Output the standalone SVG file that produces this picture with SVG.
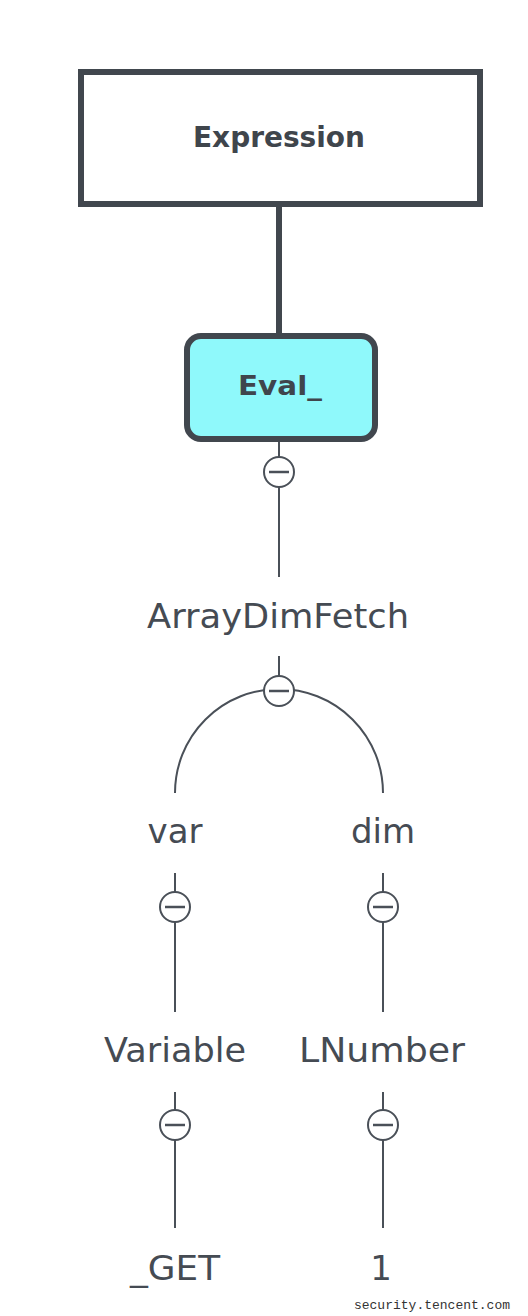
<svg xmlns="http://www.w3.org/2000/svg" width="528" height="1316" viewBox="0 0 528 1316">
<style>
.lbl{font-family:"DejaVu Sans","Liberation Sans",sans-serif;font-size:34px;fill:#454b53;text-anchor:middle}
.bold{font-family:"DejaVu Sans","Liberation Sans",sans-serif;font-weight:bold;fill:#3f454c;text-anchor:middle}
.ln{stroke:#4a5058;stroke-width:2;fill:none}
.knob{fill:#fff;stroke:#4a5058;stroke-width:2}
.dash{stroke:#4a5058;stroke-width:2.5}
</style>
<defs>
<g id="toggle"><circle class="knob" r="15"/><line class="dash" x1="-10" y1="0" x2="10" y2="0"/></g>
</defs>
<rect width="528" height="1316" fill="#fff"/>
<g id="connectors">
<line x1="279" y1="204" x2="279" y2="336" stroke="#41474e" stroke-width="6"/>
<line class="ln" x1="279" y1="441" x2="279" y2="577"/>
<line class="ln" x1="279" y1="656" x2="279" y2="690"/>
<path class="ln" d="M175,793 A104,104 0 0 1 383,793"/>
<line class="ln" x1="175" y1="873" x2="175" y2="1012"/>
<line class="ln" x1="383" y1="873" x2="383" y2="1012"/>
<line class="ln" x1="175" y1="1092" x2="175" y2="1228"/>
<line class="ln" x1="383" y1="1092" x2="383" y2="1228"/>
<use href="#toggle" x="279" y="472"/>
<use href="#toggle" x="279" y="691"/>
<use href="#toggle" x="175" y="907"/>
<use href="#toggle" x="383" y="907"/>
<use href="#toggle" x="175" y="1125"/>
<use href="#toggle" x="383" y="1125"/>
</g>
<g id="expression">
<rect x="81" y="72" width="399" height="132" fill="#fff" stroke="#41474e" stroke-width="6"/>
<text class="bold" x="279" y="147" font-size="29" textLength="172" lengthAdjust="spacingAndGlyphs">Expression</text>
</g>
<g id="eval">
<rect x="187" y="336" width="188" height="103" rx="14" fill="#8ff9fb" stroke="#41474e" stroke-width="6"/>
<text class="bold" x="280" y="395" font-size="27" textLength="84" lengthAdjust="spacingAndGlyphs">Eval_</text>
</g>
<g id="arraydimfetch"><text class="lbl" x="278" y="628" textLength="262" lengthAdjust="spacingAndGlyphs">ArrayDimFetch</text></g>
<g id="var"><text class="lbl" x="175" y="843">var</text></g>
<g id="dim"><text class="lbl" x="383" y="843">dim</text></g>
<g id="variable"><text class="lbl" x="175" y="1062" textLength="142" lengthAdjust="spacingAndGlyphs">Variable</text></g>
<g id="lnumber"><text class="lbl" x="382" y="1062" textLength="166" lengthAdjust="spacingAndGlyphs">LNumber</text></g>
<g id="get"><text class="lbl" x="175" y="1280" textLength="90" lengthAdjust="spacingAndGlyphs">_GET</text></g>
<g id="one"><text class="lbl" x="381" y="1280">1</text></g>
<text x="510" y="1309" font-family="Liberation Mono, monospace" font-size="13" fill="#333" text-anchor="end">security.tencent.com</text>
</svg>
